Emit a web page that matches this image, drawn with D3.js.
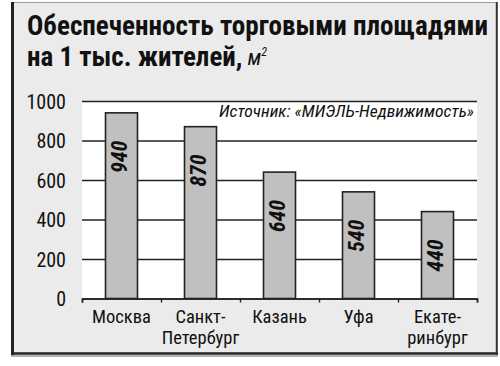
<!DOCTYPE html>
<html lang="ru">
<head>
<meta charset="utf-8">
<title>Обеспеченность торговыми площадями</title>
<script src="https://cdn.jsdelivr.net/npm/d3@7"></script>
<style>
  body { margin: 0; background: #fff; }
  svg text { font-family: "Liberation Sans Narrow", "Roboto Condensed", "Arial Narrow", "DejaVu Sans Condensed", sans-serif; }
</style>
</head>
<body>
<div id="chart"></div>
<script>
// data
const cities = ["Москва", "Санкт-Петербург", "Казань", "Уфа", "Екатеринбург"];
const cityLines = [["Москва"], ["Санкт-", "Петербург"], ["Казань"], ["Уфа"], ["Екате-", "ринбург"]];
const values = [940, 870, 640, 540, 440];
const yTicks = [0, 200, 400, 600, 800, 1000];
const title1 = "Обеспеченность торговыми площадями";
const title2 = "на 1 тыс. жителей,";
const source = "Источник: «МИЭЛЬ-Недвижимость»";

const W = 500, H = 366;
const plot = { left: 82, right: 477, top: 101, bottom: 298.5 };

const svg = d3.select("#chart").append("svg")
  .attr("width", W).attr("height", H);

// frame
svg.append("rect")
  .attr("x", 12.5).attr("y", 2.5).attr("width", 484).attr("height", 351)
  .attr("fill", "#ebebeb").attr("stroke", "#9a9a9a").attr("stroke-width", 1);
svg.append("line").attr("x1", 12.5).attr("x2", 12.5).attr("y1", 2).attr("y2", 355)
  .attr("stroke", "#222").attr("stroke-width", 3);
svg.append("line").attr("x1", 11).attr("x2", 498).attr("y1", 353.5).attr("y2", 353.5)
  .attr("stroke", "#222").attr("stroke-width", 2.5);
svg.append("line").attr("x1", 11).attr("x2", 498).attr("y1", 356).attr("y2", 356)
  .attr("stroke", "#999").attr("stroke-width", 1.5);
svg.append("line").attr("x1", 496.8).attr("x2", 496.8).attr("y1", 2).attr("y2", 355)
  .attr("stroke", "#333").attr("stroke-width", 2);

// title
svg.append("text")
  .attr("x", 27).attr("y", 35)
  .attr("font-size", 27).attr("font-weight", "bold").attr("fill", "#111")
  .attr("textLength", 461).attr("lengthAdjust", "spacingAndGlyphs")
  .text(title1);
const t2 = svg.append("text")
  .attr("x", 27).attr("y", 66)
  .attr("font-size", 27).attr("font-weight", "bold").attr("fill", "#111");
t2.append("tspan").text(title2);
t2.append("tspan").attr("dx", 5).attr("dy", -1)
  .attr("font-size", 22).attr("font-weight", "normal").attr("font-style", "italic")
  .text("м");
t2.append("tspan").attr("dy", -9)
  .attr("font-size", 12).attr("font-weight", "normal").attr("font-style", "italic")
  .text("2");

// scales
const x = d3.scaleBand().domain(cities)
  .range([plot.left, plot.right])
  .paddingInner(0.595).paddingOuter(0.2975);
const y = d3.scaleLinear().domain([0, 1000]).range([plot.bottom, plot.top]);
const xEdge = d3.scaleLinear().domain([0, cities.length]).range([plot.left, plot.right]);

// plot background
svg.append("rect")
  .attr("x", plot.left).attr("y", plot.top)
  .attr("width", plot.right - plot.left).attr("height", plot.bottom - plot.top)
  .attr("fill", "#fff");

// grid
svg.append("g")
  .attr("transform", `translate(${plot.left},0)`)
  .call(d3.axisLeft(y).tickValues(yTicks).tickSize(-(plot.right - plot.left)).tickFormat(""))
  .call(g => g.select(".domain").remove())
  .call(g => g.selectAll("line").attr("stroke", "#222").attr("stroke-width", 1.6));

// y labels
svg.append("g")
  .attr("transform", `translate(${plot.left},0)`)
  .call(d3.axisLeft(y).tickValues(yTicks).tickSize(0).tickPadding(16).tickFormat(d3.format("d")))
  .call(g => g.select(".domain").remove())
  .call(g => g.selectAll("text").attr("font-size", 20).attr("fill", "#111")
    .attr("font-family", null).attr("dy", "0.36em"));

// x axis ticks at category edges
svg.append("g")
  .attr("transform", `translate(0,${plot.bottom})`)
  .call(d3.axisBottom(xEdge).tickValues(d3.range(cities.length + 1)).tickSize(4).tickFormat(""))
  .call(g => g.select(".domain").attr("stroke", "#222").attr("stroke-width", 1.6))
  .call(g => g.selectAll("line").attr("stroke", "#222").attr("stroke-width", 1.4));

// source
svg.append("text")
  .attr("x", 474).attr("y", 117)
  .attr("text-anchor", "end")
  .attr("font-size", 16).attr("font-style", "italic").attr("fill", "#111")
  .attr("textLength", 255).attr("lengthAdjust", "spacingAndGlyphs")
  .text(source);

// bars
svg.append("g").selectAll("rect")
  .data(values)
  .join("rect")
  .attr("x", (d, i) => x(cities[i]))
  .attr("y", d => y(d))
  .attr("width", x.bandwidth())
  .attr("height", d => y(0) - y(d))
  .attr("fill", "#c0c0c0")
  .attr("stroke", "#222").attr("stroke-width", 1.6);

// value labels
svg.append("g").selectAll("text")
  .data(values)
  .join("text")
  .attr("transform", (d, i) => `translate(${x(cities[i]) + x.bandwidth() / 2 + 5},${y(d) + 44}) rotate(-90)`)
  .attr("text-anchor", "middle")
  .attr("font-size", 22).attr("font-weight", "bold").attr("font-style", "italic")
  .attr("fill", "#111")
  .text(d => d);

// city labels, one text per line
cityLines.forEach((lines, i) => {
  svg.append("g").selectAll("text")
    .data(lines)
    .join("text")
    .attr("x", x(cities[i]) + x.bandwidth() / 2)
    .attr("y", (d, j) => 323 + j * 20.5)
    .attr("text-anchor", "middle")
    .attr("font-size", 18.5).attr("fill", "#111")
    .text(d => d);
});
</script>
</body>
</html>
